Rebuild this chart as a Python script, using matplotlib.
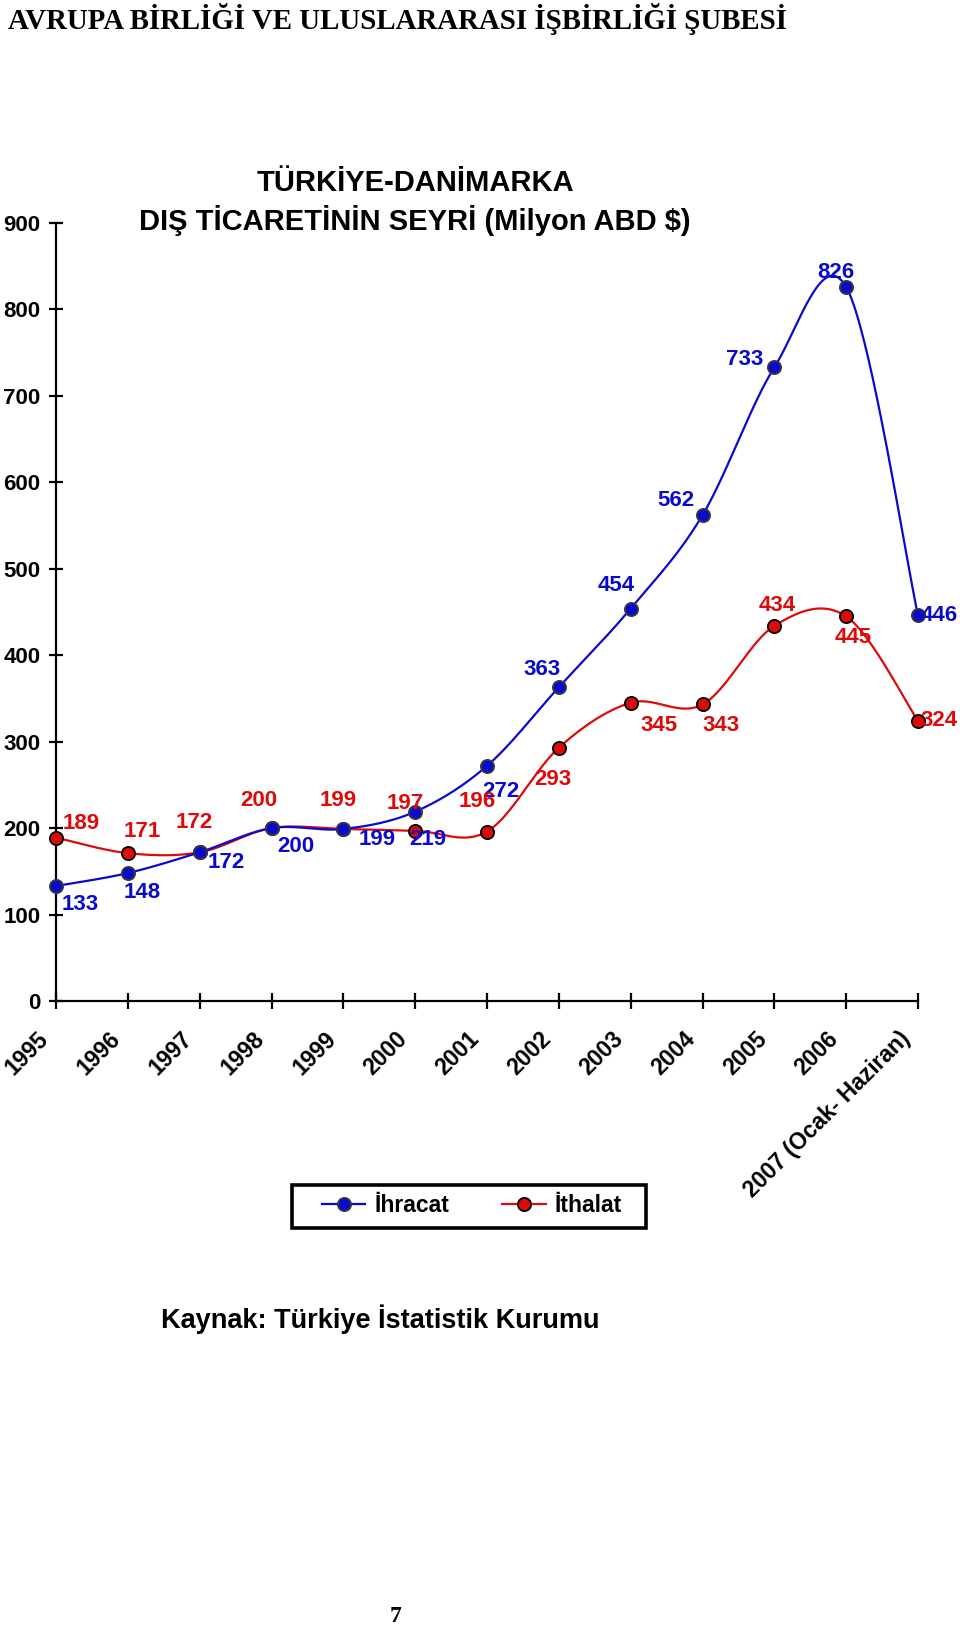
import numpy as np
import matplotlib
matplotlib.use("Agg")
import matplotlib.pyplot as plt
from matplotlib.transforms import ScaledTranslation
from matplotlib.patches import Rectangle

# ---------------- data ----------------
years = ["1995", "1996", "1997", "1998", "1999", "2000", "2001", "2002",
         "2003", "2004", "2005", "2006", "2007 (Ocak- Haziran)"]
ihracat = [133, 148, 172, 200, 199, 219, 272, 363, 454, 562, 733, 826, 446]
ithalat = [189, 171, 172, 200, 199, 197, 196, 293, 345, 343, 434, 445, 324]
# label texts as printed in the source (some are swapped in the original)
ihracat_labels = ["133", "148", "172", "200", "199", "219", "272", "363",
                  "454", "562", "733", "826", "446"]
ithalat_labels = ["189", "171", "172", "200", "199", "197", "196", "293",
                  "345", "343", "434", "445", "324"]
yticks = [0, 100, 200, 300, 400, 500, 600, 700, 800, 900]

# label offsets (screen px of the reference: dx right, dy down)
ihr_off = [(23, 18), (14, 19), (26, 10), (23, 18), (33, 10), (12, 27), (13, 25),
           (-16, -17), (-14, -22), (-26, -14), (-29, -8), (-10, -14), (20, 0)]
ith_off = [(24, -14), (14, -21), (-5, -29), (-12, -27), (-5, -27), (-10, -26),
           (-9, -29), (-6, 31), (27, 22), (18, 20), (3, -20), (7, 20), (20, 0)]

BLUE = "#0A0ACC"
RED = "#DD0A0A"

W, H = 960, 1627
fig = plt.figure(figsize=(W / 100, H / 100), dpi=100)
fig.patch.set_facecolor("white")

def fx(px):
    return px / W

def fy(py):
    return 1 - py / H

ax = fig.add_axes([fx(56), fy(1001), fx(918) - fx(56), fy(223) - fy(1001)])


def smooth(xs, ys, n=40):
    pts = np.column_stack([xs, ys]).astype(float)
    P = np.vstack([pts[0], pts, pts[-1]])
    out = []
    t = np.linspace(0, 1, n)[:, None]
    for i in range(1, len(P) - 2):
        p0, p1, p2, p3 = P[i - 1], P[i], P[i + 1], P[i + 2]
        c1 = p1 + (p2 - p0) / 6.0
        c2 = p2 - (p3 - p1) / 6.0
        seg = (1 - t) ** 3 * p1 + 3 * (1 - t) ** 2 * t * c1 + 3 * (1 - t) * t ** 2 * c2 + t ** 3 * p2
        out.append(seg)
    return np.vstack(out)


x = np.arange(len(years))
for vals, col, edge in [(ithalat, RED, "black"), (ihracat, BLUE, "#3a3a3a")]:
    s = smooth(x, vals)
    ax.plot(s[:, 0], s[:, 1], color=col, lw=1.6, clip_on=False, zorder=3)
    ax.plot(x, vals, linestyle="none", marker="o", ms=9.5, mfc=col, mec=edge,
            mew=1.3, clip_on=False, zorder=4)

# legend proxies
h1, = ax.plot([], [], color=BLUE, lw=1.6, marker="o", ms=9.5, mfc=BLUE, mec="#3a3a3a", mew=1.3)
h2, = ax.plot([], [], color=RED, lw=1.6, marker="o", ms=9.5, mfc=RED, mec="black", mew=1.3)

sc = 0.747  # reference screen px -> points
lab_font = dict(family="Liberation Sans", weight="bold", fontsize=16)
for i, (v, t) in enumerate(zip(ihracat, ihracat_labels)):
    dx, dy = ihr_off[i]
    ax.annotate(t, (x[i], v), xytext=(dx * sc, -dy * sc), textcoords="offset points",
                ha="center", va="center", color=BLUE, zorder=6, annotation_clip=False, **lab_font)
for i, (v, t) in enumerate(zip(ithalat, ithalat_labels)):
    dx, dy = ith_off[i]
    ax.annotate(t, (x[i], v), xytext=(dx * sc, -dy * sc), textcoords="offset points",
                ha="center", va="center", color=RED, zorder=6, annotation_clip=False, **lab_font)

ax.set_xlim(0, 12)
ax.set_ylim(0, 900)
for sp in ["top", "right"]:
    ax.spines[sp].set_visible(False)
for sp in ["left", "bottom"]:
    ax.spines[sp].set_linewidth(1.6)
    ax.spines[sp].set_color("black")
ax.set_facecolor("white")

ax.set_yticks(yticks)
ax.set_yticklabels([str(v) for v in yticks], family="Liberation Sans", weight="bold", fontsize=16)
ax.tick_params(axis="y", direction="inout", length=10, width=1.6, pad=6)

ax.set_xticks(x)
ax.set_xticklabels(years, family="Liberation Sans", weight="bold", fontsize=16.5,
                   rotation=45, ha="right", va="center", rotation_mode="anchor")
ax.tick_params(axis="x", direction="inout", length=11.5, width=1.6, pad=19)
shift = ScaledTranslation(-8 / 72, 0, fig.dpi_scale_trans)
for lbl in ax.get_xticklabels():
    lbl.set_transform(lbl.get_transform() + shift)

leg = fig.legend([h1, h2], ["İhracat", "İthalat"], loc="center",
                 bbox_to_anchor=(fx(472), fy(1206)), ncol=2, frameon=False,
                 prop=dict(family="Liberation Sans", weight="bold", size=16.5),
                 handlelength=1.9, handletextpad=0.4, columnspacing=2.3, borderpad=0.35,
                 borderaxespad=0)
fig.patches.append(Rectangle((fx(292), fy(1228)), fx(646) - fx(292), fy(1185) - fy(1228),
                             transform=fig.transFigure, fill=False, edgecolor="black",
                             linewidth=2.6, zorder=5))

# texts
fig.text(fx(8), fy(19), "AVRUPA BİRLİĞİ VE ULUSLARARASI İŞBİRLİĞİ ŞUBESİ",
         family="Liberation Serif", weight="bold", fontsize=20.8, ha="left", va="center")
fig.text(fx(415), fy(183), "TÜRKİYE-DANİMARKA", family="Liberation Sans", weight="bold",
         fontsize=21, ha="center", va="center")
fig.text(fx(415), fy(220), "DIŞ TİCARETİNİN SEYRİ (Milyon ABD $)", family="Liberation Sans",
         weight="bold", fontsize=21, ha="center", va="center")
fig.text(fx(161), fy(1319), "Kaynak: Türkiye İstatistik Kurumu", family="Liberation Sans",
         weight="bold", fontsize=19.5, ha="left", va="center")
fig.text(fx(396), fy(1616), "7", family="Liberation Serif", weight="bold", fontsize=17,
         ha="center", va="center")

fig.savefig("out.png", dpi=100, facecolor="white")
